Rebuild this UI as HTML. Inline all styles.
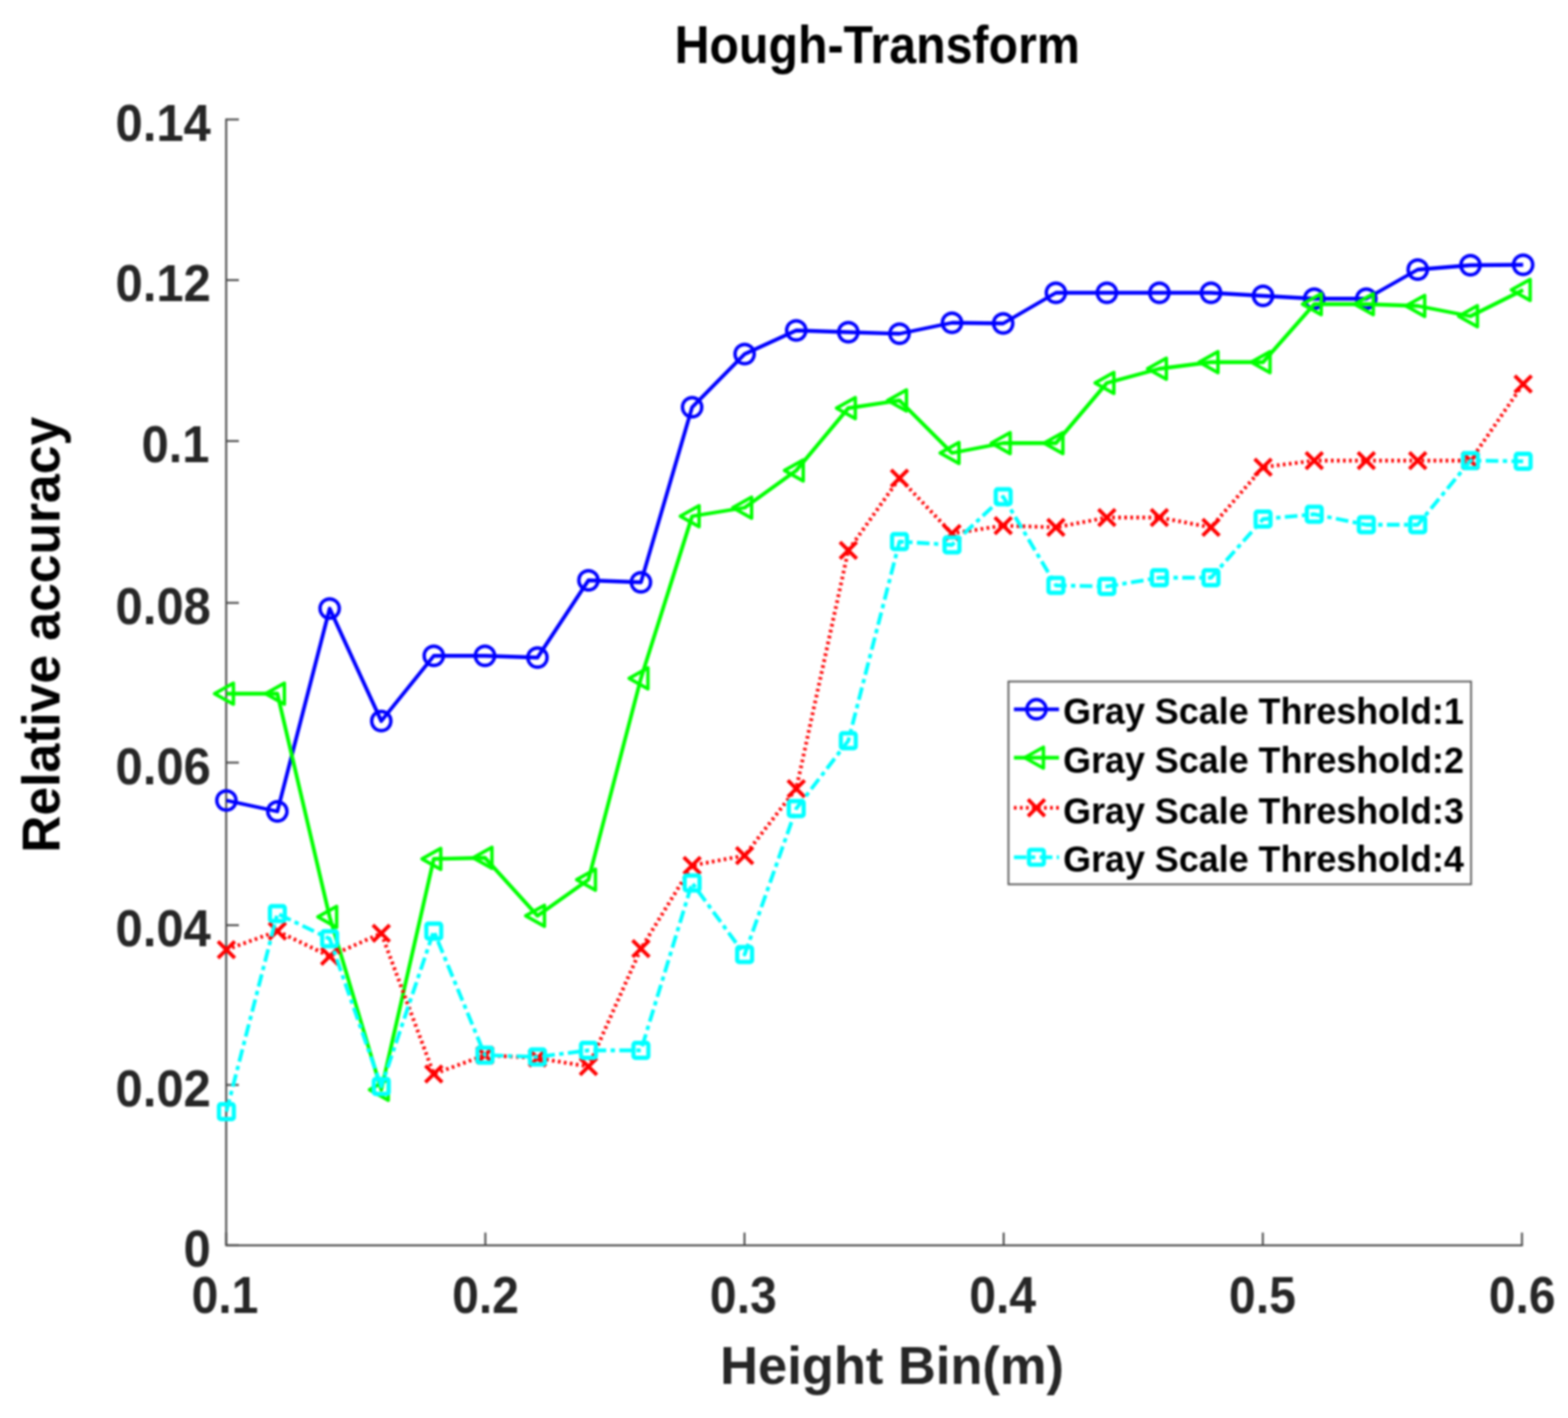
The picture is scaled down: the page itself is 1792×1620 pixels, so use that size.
<!DOCTYPE html>
<html lang="en">
<head>
<meta charset="utf-8">
<title>Hough-Transform</title>
<style>
html,body{margin:0;padding:0;background:#fff;}
body{width:1792px;height:1620px;overflow:hidden;}
svg{display:block;filter:blur(1.15px);}
text{font-family:"Liberation Sans",sans-serif;font-weight:bold;}
.tick{fill:#262626;}
.ax{stroke:#363636;stroke-width:2;fill:none;}
.tk{stroke:#4a4a4a;stroke-width:2.2;fill:none;}
.ln{fill:none;stroke-width:4.3;stroke-linejoin:round;stroke-linecap:butt;}
.mk{fill:none;stroke-width:3.9;stroke-linejoin:round;stroke-linecap:butt;}
</style>
</head>
<body>
<svg width="1792" height="1620" viewBox="0 0 1792 1620">
<rect x="0" y="0" width="1792" height="1620" fill="#ffffff"/>

<g class="ax">
<path d="M258.5 135.5L258.5 1422.7L1740.4 1422.7"/>
</g>
<g class="tk">
<path d="M258.50 1422.7L258.50 1408.2"/>
<path d="M554.68 1422.7L554.68 1408.2"/>
<path d="M850.86 1422.7L850.86 1408.2"/>
<path d="M1147.04 1422.7L1147.04 1408.2"/>
<path d="M1443.22 1422.7L1443.22 1408.2"/>
<path d="M1739.40 1422.7L1739.40 1408.2"/>
<path d="M258.5 1422.70L273.0 1422.70"/>
<path d="M258.5 1239.50L273.0 1239.50"/>
<path d="M258.5 1057.00L273.0 1057.00"/>
<path d="M258.5 871.25L273.0 871.25"/>
<path d="M258.5 688.75L273.0 688.75"/>
<path d="M258.5 503.90L273.0 503.90"/>
<path d="M258.5 320.00L273.0 320.00"/>
<path d="M258.5 136.50L273.0 136.50"/>
</g>
<g class="tick">
<text x="219.00" y="1499.60" font-size="59.3" textLength="76.30" lengthAdjust="spacingAndGlyphs" fill="#262626">0.1</text>
<text x="516.68" y="1499.60" font-size="59.3" textLength="76.30" lengthAdjust="spacingAndGlyphs" fill="#262626">0.2</text>
<text x="811.36" y="1499.60" font-size="59.3" textLength="76.30" lengthAdjust="spacingAndGlyphs" fill="#262626">0.3</text>
<text x="1107.84" y="1499.60" font-size="59.3" textLength="76.30" lengthAdjust="spacingAndGlyphs" fill="#262626">0.4</text>
<text x="1404.62" y="1499.60" font-size="59.3" textLength="76.30" lengthAdjust="spacingAndGlyphs" fill="#262626">0.5</text>
<text x="1701.60" y="1499.60" font-size="59.3" textLength="76.30" lengthAdjust="spacingAndGlyphs" fill="#262626">0.6</text>
<text x="209.87" y="1447.00" font-size="59.3" textLength="31.13" lengthAdjust="spacingAndGlyphs" fill="#262626">0</text>
<text x="132.05" y="1263.80" font-size="59.3" textLength="108.95" lengthAdjust="spacingAndGlyphs" fill="#262626">0.02</text>
<text x="132.05" y="1081.30" font-size="59.3" textLength="108.95" lengthAdjust="spacingAndGlyphs" fill="#262626">0.04</text>
<text x="132.05" y="895.55" font-size="59.3" textLength="108.95" lengthAdjust="spacingAndGlyphs" fill="#262626">0.06</text>
<text x="132.05" y="713.05" font-size="59.3" textLength="108.95" lengthAdjust="spacingAndGlyphs" fill="#262626">0.08</text>
<text x="161.68" y="528.20" font-size="59.3" textLength="77.82" lengthAdjust="spacingAndGlyphs" fill="#262626">0.1</text>
<text x="132.05" y="344.30" font-size="59.3" textLength="108.95" lengthAdjust="spacingAndGlyphs" fill="#262626">0.12</text>
<text x="132.05" y="160.80" font-size="59.3" textLength="108.95" lengthAdjust="spacingAndGlyphs" fill="#262626">0.14</text>
</g>
<text x="771.00" y="72.10" font-size="61" textLength="463.00" lengthAdjust="spacingAndGlyphs" fill="#000">Hough-Transform</text>
<text x="823.00" y="1581.10" font-size="60.5" textLength="393.00" lengthAdjust="spacingAndGlyphs" fill="#262626">Height Bin(m)</text>
<text transform="translate(67.50 974.30) rotate(-90)" font-size="61" textLength="498.00" lengthAdjust="spacingAndGlyphs" fill="#000">Relative accuracy</text>
<g stroke="#0000ff">
<polyline class="ln" points="258.75,914.50 317.00,927.00 376.75,695.25 435.75,823.75 495.75,749.25 554.25,749.25 614.25,751.25 672.50,663.00 732.50,665.25 791.00,465.25 851.00,404.50 910.00,377.50 969.50,379.50 1028.00,381.25 1088.00,368.75 1146.50,369.50 1206.75,334.50 1265.00,334.50 1325.00,334.50 1384.00,334.50 1443.50,338.00 1502.00,341.25 1561.50,341.25 1620.25,308.00 1680.50,303.00 1740.75,302.50"/>
<g class="mk">
<circle cx="258.75" cy="914.50" r="11.0"/>
<circle cx="317.00" cy="927.00" r="11.0"/>
<circle cx="376.75" cy="695.25" r="11.0"/>
<circle cx="435.75" cy="823.75" r="11.0"/>
<circle cx="495.75" cy="749.25" r="11.0"/>
<circle cx="554.25" cy="749.25" r="11.0"/>
<circle cx="614.25" cy="751.25" r="11.0"/>
<circle cx="672.50" cy="663.00" r="11.0"/>
<circle cx="732.50" cy="665.25" r="11.0"/>
<circle cx="791.00" cy="465.25" r="11.0"/>
<circle cx="851.00" cy="404.50" r="11.0"/>
<circle cx="910.00" cy="377.50" r="11.0"/>
<circle cx="969.50" cy="379.50" r="11.0"/>
<circle cx="1028.00" cy="381.25" r="11.0"/>
<circle cx="1088.00" cy="368.75" r="11.0"/>
<circle cx="1146.50" cy="369.50" r="11.0"/>
<circle cx="1206.75" cy="334.50" r="11.0"/>
<circle cx="1265.00" cy="334.50" r="11.0"/>
<circle cx="1325.00" cy="334.50" r="11.0"/>
<circle cx="1384.00" cy="334.50" r="11.0"/>
<circle cx="1443.50" cy="338.00" r="11.0"/>
<circle cx="1502.00" cy="341.25" r="11.0"/>
<circle cx="1561.50" cy="341.25" r="11.0"/>
<circle cx="1620.25" cy="308.00" r="11.0"/>
<circle cx="1680.50" cy="303.00" r="11.0"/>
<circle cx="1740.75" cy="302.50" r="11.0"/>
</g></g>
<g stroke="#00ff00">
<polyline class="ln" points="258.75,792.50 317.00,792.50 376.75,1047.50 435.75,1245.00 495.75,981.25 554.25,980.00 614.25,1046.25 672.50,1005.00 732.50,775.00 791.00,589.75 851.00,580.00 910.00,537.50 969.50,466.25 1028.00,457.50 1088.00,517.50 1146.50,506.25 1206.75,506.25 1265.00,437.50 1325.00,421.25 1384.00,413.75 1443.50,413.75 1502.00,347.50 1561.50,347.50 1620.25,349.50 1680.50,361.25 1740.75,331.25"/>
<g class="mk">
<path d="M245.25 792.50L266.75 780.50L266.75 804.50Z"/>
<path d="M303.50 792.50L325.00 780.50L325.00 804.50Z"/>
<path d="M363.25 1047.50L384.75 1035.50L384.75 1059.50Z"/>
<path d="M422.25 1245.00L443.75 1233.00L443.75 1257.00Z"/>
<path d="M482.25 981.25L503.75 969.25L503.75 993.25Z"/>
<path d="M540.75 980.00L562.25 968.00L562.25 992.00Z"/>
<path d="M600.75 1046.25L622.25 1034.25L622.25 1058.25Z"/>
<path d="M659.00 1005.00L680.50 993.00L680.50 1017.00Z"/>
<path d="M719.00 775.00L740.50 763.00L740.50 787.00Z"/>
<path d="M777.50 589.75L799.00 577.75L799.00 601.75Z"/>
<path d="M837.50 580.00L859.00 568.00L859.00 592.00Z"/>
<path d="M896.50 537.50L918.00 525.50L918.00 549.50Z"/>
<path d="M956.00 466.25L977.50 454.25L977.50 478.25Z"/>
<path d="M1014.50 457.50L1036.00 445.50L1036.00 469.50Z"/>
<path d="M1074.50 517.50L1096.00 505.50L1096.00 529.50Z"/>
<path d="M1133.00 506.25L1154.50 494.25L1154.50 518.25Z"/>
<path d="M1193.25 506.25L1214.75 494.25L1214.75 518.25Z"/>
<path d="M1251.50 437.50L1273.00 425.50L1273.00 449.50Z"/>
<path d="M1311.50 421.25L1333.00 409.25L1333.00 433.25Z"/>
<path d="M1370.50 413.75L1392.00 401.75L1392.00 425.75Z"/>
<path d="M1430.00 413.75L1451.50 401.75L1451.50 425.75Z"/>
<path d="M1488.50 347.50L1510.00 335.50L1510.00 359.50Z"/>
<path d="M1548.00 347.50L1569.50 335.50L1569.50 359.50Z"/>
<path d="M1606.75 349.50L1628.25 337.50L1628.25 361.50Z"/>
<path d="M1667.00 361.25L1688.50 349.25L1688.50 373.25Z"/>
<path d="M1727.25 331.25L1748.75 319.25L1748.75 343.25Z"/>
</g></g>
<g stroke="#ff0000">
<polyline class="ln" points="258.75,1085.00 317.00,1063.75 376.75,1092.50 435.75,1066.25 495.75,1227.00 554.25,1205.50 614.25,1208.75 672.50,1218.50 732.50,1083.75 791.00,988.75 851.00,977.50 910.00,901.00 969.50,628.75 1028.00,546.25 1088.00,609.50 1146.50,600.50 1206.75,602.50 1265.00,591.25 1325.00,591.25 1384.00,602.50 1443.50,533.75 1502.00,526.25 1561.50,526.25 1620.25,526.25 1680.50,526.25 1740.75,438.75" stroke-dasharray="3 3.9" stroke-width="3.3"/>
<g class="mk">
<path stroke-width="4.3" d="M249.15 1075.40L268.35 1094.60M249.15 1094.60L268.35 1075.40"/>
<path stroke-width="4.3" d="M307.40 1054.15L326.60 1073.35M307.40 1073.35L326.60 1054.15"/>
<path stroke-width="4.3" d="M367.15 1082.90L386.35 1102.10M367.15 1102.10L386.35 1082.90"/>
<path stroke-width="4.3" d="M426.15 1056.65L445.35 1075.85M426.15 1075.85L445.35 1056.65"/>
<path stroke-width="4.3" d="M486.15 1217.40L505.35 1236.60M486.15 1236.60L505.35 1217.40"/>
<path stroke-width="4.3" d="M544.65 1195.90L563.85 1215.10M544.65 1215.10L563.85 1195.90"/>
<path stroke-width="4.3" d="M604.65 1199.15L623.85 1218.35M604.65 1218.35L623.85 1199.15"/>
<path stroke-width="4.3" d="M662.90 1208.90L682.10 1228.10M662.90 1228.10L682.10 1208.90"/>
<path stroke-width="4.3" d="M722.90 1074.15L742.10 1093.35M722.90 1093.35L742.10 1074.15"/>
<path stroke-width="4.3" d="M781.40 979.15L800.60 998.35M781.40 998.35L800.60 979.15"/>
<path stroke-width="4.3" d="M841.40 967.90L860.60 987.10M841.40 987.10L860.60 967.90"/>
<path stroke-width="4.3" d="M900.40 891.40L919.60 910.60M900.40 910.60L919.60 891.40"/>
<path stroke-width="4.3" d="M959.90 619.15L979.10 638.35M959.90 638.35L979.10 619.15"/>
<path stroke-width="4.3" d="M1018.40 536.65L1037.60 555.85M1018.40 555.85L1037.60 536.65"/>
<path stroke-width="4.3" d="M1078.40 599.90L1097.60 619.10M1078.40 619.10L1097.60 599.90"/>
<path stroke-width="4.3" d="M1136.90 590.90L1156.10 610.10M1136.90 610.10L1156.10 590.90"/>
<path stroke-width="4.3" d="M1197.15 592.90L1216.35 612.10M1197.15 612.10L1216.35 592.90"/>
<path stroke-width="4.3" d="M1255.40 581.65L1274.60 600.85M1255.40 600.85L1274.60 581.65"/>
<path stroke-width="4.3" d="M1315.40 581.65L1334.60 600.85M1315.40 600.85L1334.60 581.65"/>
<path stroke-width="4.3" d="M1374.40 592.90L1393.60 612.10M1374.40 612.10L1393.60 592.90"/>
<path stroke-width="4.3" d="M1433.90 524.15L1453.10 543.35M1433.90 543.35L1453.10 524.15"/>
<path stroke-width="4.3" d="M1492.40 516.65L1511.60 535.85M1492.40 535.85L1511.60 516.65"/>
<path stroke-width="4.3" d="M1551.90 516.65L1571.10 535.85M1551.90 535.85L1571.10 516.65"/>
<path stroke-width="4.3" d="M1610.65 516.65L1629.85 535.85M1610.65 535.85L1629.85 516.65"/>
<path stroke-width="4.3" d="M1670.90 516.65L1690.10 535.85M1670.90 535.85L1690.10 516.65"/>
<path stroke-width="4.3" d="M1731.15 429.15L1750.35 448.35M1731.15 448.35L1750.35 429.15"/>
</g></g>
<g stroke="#00ffff">
<polyline class="ln" points="258.75,1270.00 317.00,1043.75 376.75,1072.50 435.75,1241.25 495.75,1063.75 554.25,1205.50 614.25,1207.50 672.50,1200.00 732.50,1200.00 791.00,1008.75 851.00,1090.50 910.00,923.75 969.50,846.25 1028.00,618.75 1088.00,622.50 1146.50,567.50 1206.75,668.75 1265.00,670.00 1325.00,660.00 1384.00,660.00 1443.50,593.00 1502.00,587.50 1561.50,599.50 1620.25,599.50 1680.50,526.25 1740.75,527.00" stroke-dasharray="14.5 5 5 5" stroke-width="4.3"/>
<g class="mk">
<rect x="250.25" y="1261.50" width="17.00" height="17.00" rx="2" stroke-width="4.8"/>
<rect x="308.50" y="1035.25" width="17.00" height="17.00" rx="2" stroke-width="4.8"/>
<rect x="368.25" y="1064.00" width="17.00" height="17.00" rx="2" stroke-width="4.8"/>
<rect x="427.25" y="1232.75" width="17.00" height="17.00" rx="2" stroke-width="4.8"/>
<rect x="487.25" y="1055.25" width="17.00" height="17.00" rx="2" stroke-width="4.8"/>
<rect x="545.75" y="1197.00" width="17.00" height="17.00" rx="2" stroke-width="4.8"/>
<rect x="605.75" y="1199.00" width="17.00" height="17.00" rx="2" stroke-width="4.8"/>
<rect x="664.00" y="1191.50" width="17.00" height="17.00" rx="2" stroke-width="4.8"/>
<rect x="724.00" y="1191.50" width="17.00" height="17.00" rx="2" stroke-width="4.8"/>
<rect x="782.50" y="1000.25" width="17.00" height="17.00" rx="2" stroke-width="4.8"/>
<rect x="842.50" y="1082.00" width="17.00" height="17.00" rx="2" stroke-width="4.8"/>
<rect x="901.50" y="915.25" width="17.00" height="17.00" rx="2" stroke-width="4.8"/>
<rect x="961.00" y="837.75" width="17.00" height="17.00" rx="2" stroke-width="4.8"/>
<rect x="1019.50" y="610.25" width="17.00" height="17.00" rx="2" stroke-width="4.8"/>
<rect x="1079.50" y="614.00" width="17.00" height="17.00" rx="2" stroke-width="4.8"/>
<rect x="1138.00" y="559.00" width="17.00" height="17.00" rx="2" stroke-width="4.8"/>
<rect x="1198.25" y="660.25" width="17.00" height="17.00" rx="2" stroke-width="4.8"/>
<rect x="1256.50" y="661.50" width="17.00" height="17.00" rx="2" stroke-width="4.8"/>
<rect x="1316.50" y="651.50" width="17.00" height="17.00" rx="2" stroke-width="4.8"/>
<rect x="1375.50" y="651.50" width="17.00" height="17.00" rx="2" stroke-width="4.8"/>
<rect x="1435.00" y="584.50" width="17.00" height="17.00" rx="2" stroke-width="4.8"/>
<rect x="1493.50" y="579.00" width="17.00" height="17.00" rx="2" stroke-width="4.8"/>
<rect x="1553.00" y="591.00" width="17.00" height="17.00" rx="2" stroke-width="4.8"/>
<rect x="1611.75" y="591.00" width="17.00" height="17.00" rx="2" stroke-width="4.8"/>
<rect x="1672.00" y="517.75" width="17.00" height="17.00" rx="2" stroke-width="4.8"/>
<rect x="1732.25" y="518.50" width="17.00" height="17.00" rx="2" stroke-width="4.8"/>
</g></g>
<rect x="1152.5" y="778.6" width="528.75" height="231.70" fill="#fff" stroke="#595959" stroke-width="2"/>
<g stroke="#0000ff">
<path class="ln" d="M1158.75 810.3L1210.3 810.3"/>
<g class="mk"><circle cx="1184.50" cy="810.30" r="11.0"/></g>
</g>
<text x="1215.00" y="827.30" font-size="42.7" textLength="458.00" lengthAdjust="spacingAndGlyphs" fill="#000">Gray Scale Threshold:1</text>
<g stroke="#00ff00">
<path class="ln" d="M1158.75 865.6L1210.3 865.6"/>
<g class="mk"><path d="M1171.00 865.60L1192.50 853.60L1192.50 877.60Z"/></g>
</g>
<text x="1215.00" y="882.80" font-size="42.7" textLength="458.00" lengthAdjust="spacingAndGlyphs" fill="#000">Gray Scale Threshold:2</text>
<g stroke="#ff0000">
<path class="ln" d="M1158.75 922.8L1210.3 922.8" stroke-dasharray="3 3.9" stroke-width="3.3"/>
<g class="mk"><path stroke-width="4.3" d="M1174.90 913.20L1194.10 932.40M1174.90 932.40L1194.10 913.20"/></g>
</g>
<text x="1215.00" y="940.80" font-size="42.7" textLength="458.00" lengthAdjust="spacingAndGlyphs" fill="#000">Gray Scale Threshold:3</text>
<g stroke="#00ffff">
<path class="ln" d="M1158.75 979.4L1210.3 979.4" stroke-dasharray="14.5 5 5 5" stroke-width="4.3"/>
<g class="mk"><rect x="1176.00" y="970.90" width="17.00" height="17.00" rx="2" stroke-width="4.8"/></g>
</g>
<text x="1215.00" y="996.25" font-size="42.7" textLength="458.00" lengthAdjust="spacingAndGlyphs" fill="#000">Gray Scale Threshold:4</text>
</svg>
</body>
</html>
